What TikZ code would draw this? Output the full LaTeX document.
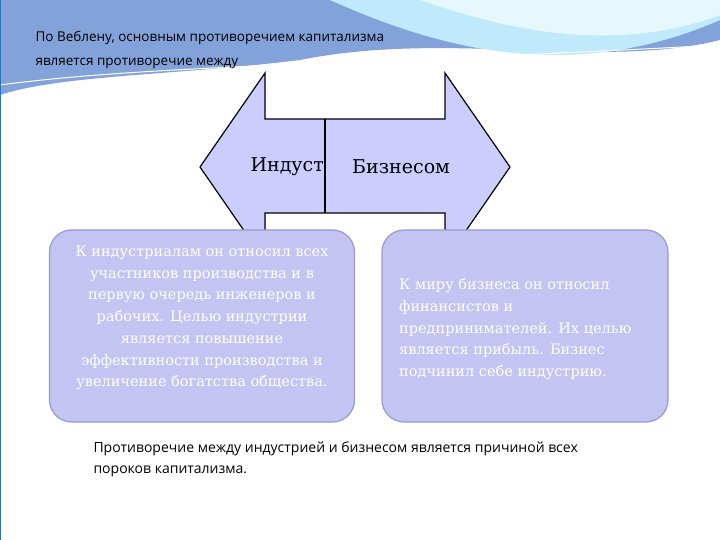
\documentclass[tikz,border=0pt]{standalone}
\usepackage{fontspec}
\setmainfont{DejaVu Serif}
\newfontfamily\calfont{Open Sans}
\begin{document}
\begin{tikzpicture}[x=1pt,y=-1pt,
  boxst/.style={draw=black!45!blue!40, line width=1.2pt, fill=blue!20!white!90!gray, rounded corners=22pt},
  btxt/.style={text=white, font=\fontsize{14.5}{21.7}\selectfont, inner sep=0pt},
  albl/.style={font=\fontsize{19}{22}\selectfont, inner sep=0pt}]
\useasboundingbox (0,0) rectangle (720,540);
\fill[white] (0,0) rectangle (720,540);
% top wave
\fill[cyan!45!blue!50] (0,0) -- (720,0) -- (720,40) .. controls (600,70) and (450,30) .. (300,60) .. controls (180,75) and (60,75) .. (0,95) -- cycle;
\fill[cyan!25!white] (330,0) .. controls (420,40) and (560,90) .. (720,20) -- (720,0) -- cycle;
\fill[cyan!10!white] (420,0) .. controls (480,20) and (600,60) .. (720,15) -- (720,0) -- cycle;
\draw[white, line width=1pt] (0,85) .. controls (150,65) and (350,65) .. (720,45);
\draw[cyan!60!blue, line width=1pt] (0,0) rectangle (720,540);
\node[anchor=west, font=\calfont\fontsize{13.5}{24}\selectfont, align=left] (title) at (32,50) {По Веблену, основным противоречием капитализма\\является противоречие между};
% double arrow
\fill[blue!20!white] (265,73) -- (265,119) -- (445,119) -- (445,73) -- (510,167) -- (445,261) -- (445,213) -- (265,213) -- (265,261) -- (200,167) -- cycle;
\draw[line width=1.2pt] (265,73) -- (265,119) -- (445,119) -- (445,73) -- (510,167) -- (445,261) -- (445,213) -- (265,213) -- (265,261) -- (200,167) -- cycle;
\draw[line width=1.2pt] (325,119) -- (325,213);
\node[albl, anchor=east] (i) at (324,167) {Индуст};
\node[albl, anchor=west] (b) at (352,167) {Бизнесом};
% boxes
\node[boxst, minimum width=305pt, minimum height=192pt] (L) at (202,326) {};
\node[boxst, minimum width=286pt, minimum height=192pt] (R) at (525,326) {};
\node[btxt, align=center] (lt) at (202,318) {К индустриалам он относил всех\\участников производства и в\\первую очередь инженеров и\\рабочих. Целью индустрии\\является повышение\\эффективности производства и\\увеличение богатства общества.};
\node[btxt, align=left, anchor=west] (rt) at (399,329) {К миру бизнеса он относил\\финансистов и\\предпринимателей. Их целью\\является прибыль. Бизнес\\подчинил себе индустрию.};
\node[anchor=west, font=\calfont\fontsize{14}{21}\selectfont, align=left] (foot) at (90,459) {Противоречие между индустрией и бизнесом является причиной всех\\пороков капитализма.};
\end{tikzpicture}
\end{document}
